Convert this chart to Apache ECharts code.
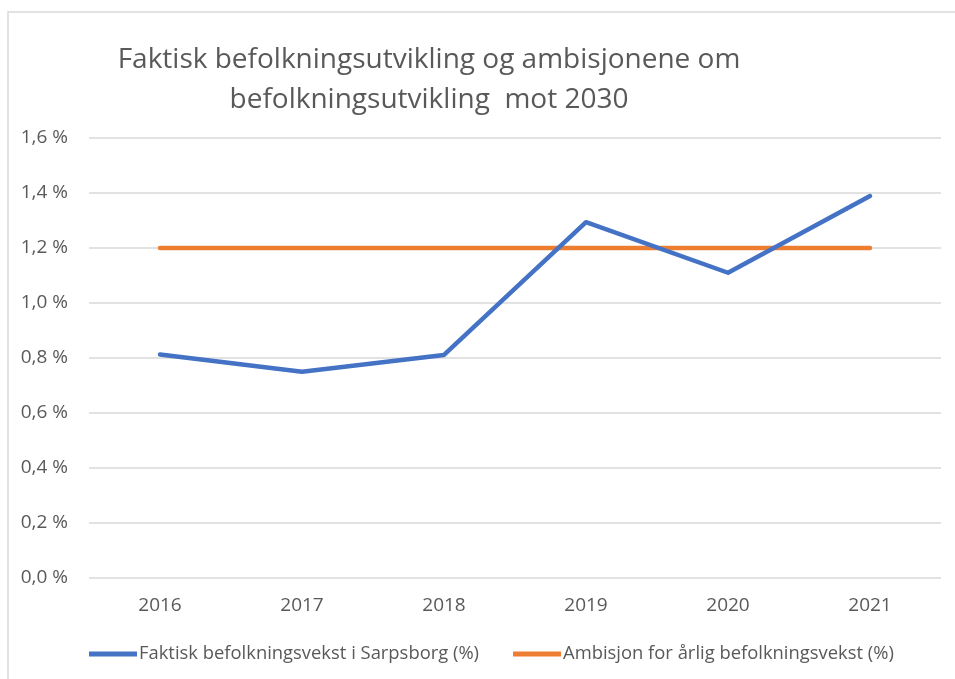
<!DOCTYPE html>
<html>
<head>
<meta charset="utf-8">
<script src="https://cdn.jsdelivr.net/npm/echarts@6/dist/echarts.min.js"></script>
<style>
  html, body { margin: 0; padding: 0; background: #fff; }
  #chart { width: 955px; height: 679px; }
</style>
</head>
<body>
<div id="chart"></div>
<script>
// data
var years = ['2016', '2017', '2018', '2019', '2020', '2021'];
var faktisk = [0.813, 0.750, 0.811, 1.294, 1.110, 1.389];
var ambisjon = [1.2, 1.2, 1.2, 1.2, 1.2, 1.2];
var seriesNames = ['Faktisk befolkningsvekst i Sarpsborg (%)', 'Ambisjon for årlig befolkningsvekst (%)'];
var titleText = 'Faktisk befolkningsutvikling og ambisjonene om\nbefolkningsutvikling  mot 2030';

var font = '"Open Sans", sans-serif';
var txt = '#595959';

var chart = echarts.init(document.getElementById('chart'));
var option = {
  animation: false,
  textStyle: { fontFamily: font },
  graphic: [{
    type: 'rect',
    shape: { x: 8, y: 12, width: 960, height: 700 },
    style: { fill: 'none', stroke: '#d9d9d9', lineWidth: 1.5 }
  }],
  title: {
    text: titleText,
    left: 424,
    top: 35,
    textAlign: 'center',
    textStyle: {
      fontFamily: font,
      fontSize: 28,
      fontWeight: 'normal',
      color: txt,
      lineHeight: 40,
      align: 'center'
    }
  },
  grid: { left: 89, right: 14, top: 138, bottom: 101 },
  legend: {
    top: 640,
    left: 84,
    itemWidth: 48,
    itemHeight: 5,
    itemGap: 34,
    icon: 'rect',
    textStyle: { fontFamily: font, fontSize: 18.4, color: txt, padding: [0, 0, 0, -3] },
    data: seriesNames
  },
  xAxis: {
    type: 'category',
    data: years,
    boundaryGap: true,
    axisLine: { show: false },
    axisTick: { show: false },
    axisLabel: { fontFamily: font, fontSize: 19, color: txt, margin: 18 }
  },
  yAxis: {
    type: 'value',
    min: 0,
    max: 1.6,
    interval: 0.2,
    axisLine: { show: false },
    axisTick: { show: false },
    splitLine: { lineStyle: { color: '#d9d9d9', width: 1.5 } },
    axisLabel: {
      fontFamily: font,
      fontSize: 19,
      color: txt,
      margin: 21,
      formatter: function (v) { return v.toFixed(1).replace('.', ',') + ' %'; }
    }
  },
  series: [
    {
      name: seriesNames[0],
      type: 'line',
      data: faktisk,
      symbol: 'none',
      color: '#4472c4',
      lineStyle: { width: 4.5, cap: 'round', join: 'round' },
      z: 3
    },
    {
      name: seriesNames[1],
      type: 'line',
      data: ambisjon,
      symbol: 'none',
      color: '#ed7d31',
      lineStyle: { width: 4.5, cap: 'round' },
      z: 2
    }
  ]
};
chart.setOption(option);
</script>
</body>
</html>
